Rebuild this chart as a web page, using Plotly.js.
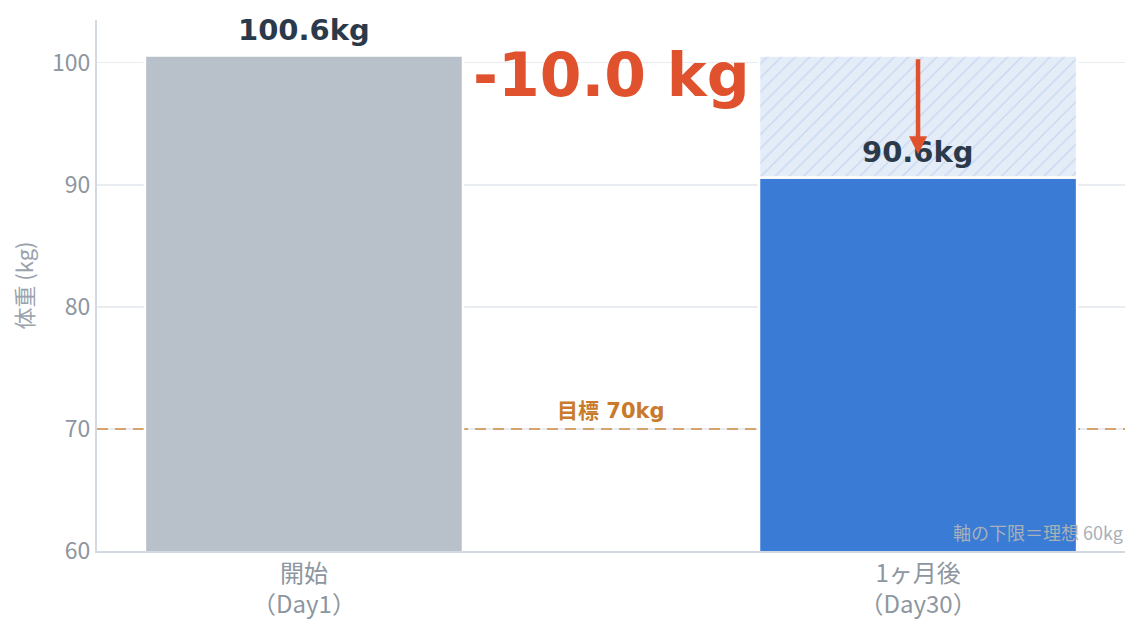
<!DOCTYPE html>
<html>
<head>
<meta charset="utf-8">
<script src="https://cdn.plot.ly/plotly-3.0.1.min.js"></script>
<style>
  body { margin: 0; background: #fff; }
  #chart { width: 1140px; height: 630px; }
</style>
</head>
<body>
<div id="chart"></div>
<script>
// data
const categories = ['開始<br>（Day1）', '1ヶ月後<br>（Day30）'];
const weights = [100.6, 90.6];
const barColors = ['#b8c1ca', '#3a7bd5'];
const goalWeight = 70;
const axisMin = 60;
const axisMax = 103.5;

const lost = weights[0] - weights[1];

const boldFont = 'DejaVu Sans, Noto Sans CJK JP, sans-serif';
const thinFont = 'Noto Sans CJK JP, DejaVu Sans, sans-serif';

// goal line on a hidden 0..1 axis so it sits under the bars
const traceGoal = {
  x: [0, 1],
  y: [goalWeight, goalWeight],
  xaxis: 'x',
  type: 'scatter',
  mode: 'lines',
  line: { color: '#d08a40', width: 1.6, dash: '11px,7px' },
  hoverinfo: 'skip'
};

// main bars
const traceWeights = {
  x: categories,
  y: weights,
  xaxis: 'x2',
  type: 'bar',
  width: 0.518,
  marker: { color: barColors, line: { color: '#ffffff', width: 2.5 } },
  hoverinfo: 'skip'
};

// lost weight, hatched block on top of the second bar
const traceLost = {
  x: [categories[1]],
  y: [lost],
  base: [weights[1]],
  xaxis: 'x2',
  type: 'bar',
  width: 0.518,
  marker: {
    color: '#e4ecf8',
    line: { color: '#ffffff', width: 2.5 },
    pattern: { shape: '/', fgcolor: '#c6d6f0', bgcolor: '#e4ecf8', size: 10, solidity: 0.12 }
  },
  hoverinfo: 'skip'
};

const layout = {
  width: 1140,
  height: 630,
  margin: { l: 97, r: 15, t: 20, b: 79 },
  paper_bgcolor: '#ffffff',
  plot_bgcolor: '#ffffff',
  showlegend: false,
  barmode: 'overlay',
  font: { family: thinFont, color: '#8d96a0' },
  xaxis: {
    range: [0, 1],
    visible: false,
    fixedrange: true
  },
  xaxis2: {
    type: 'category',
    overlaying: 'x',
    side: 'bottom',
    anchor: 'y',
    range: [-0.337, 1.337],
    showgrid: false,
    showline: true,
    linecolor: '#d3d9e0',
    linewidth: 2,
    ticks: '',
    tickfont: { family: thinFont, size: 24, color: '#8d96a0' },
    fixedrange: true
  },
  yaxis: {
    range: [axisMin, axisMax],
    tickvals: [60, 70, 80, 90, 100],
    showgrid: true,
    gridcolor: '#e9edf1',
    gridwidth: 1.5,
    zeroline: false,
    showline: true,
    linecolor: '#d3d9e0',
    linewidth: 2,
    ticks: '',
    ticklen: 0,
    tickfont: { family: thinFont, size: 23, color: '#8d96a0' },
    title: { text: '体重 (kg)', font: { family: thinFont, size: 22, color: '#9aa3ad' }, standoff: 12 },
    fixedrange: true
  },
  annotations: [
    {
      xref: 'x2', x: categories[0], y: weights[0], yanchor: 'bottom', yshift: 6,
      text: '<b>' + weights[0].toFixed(1) + 'kg</b>', showarrow: false,
      font: { family: boldFont, size: 29, color: '#2b3a4a' }
    },
    {
      xref: 'x2', x: categories[1], y: weights[1], yanchor: 'bottom', yshift: 6,
      text: '<b>' + weights[1].toFixed(1) + 'kg</b>', showarrow: false,
      font: { family: boldFont, size: 29, color: '#2b3a4a' }
    },
    {
      xref: 'x2', x: categories[1], y: weights[1] + 1.9,
      ax: categories[1], ay: weights[0] - 0.2,
      axref: 'x2', ayref: 'y',
      text: '', showarrow: true,
      arrowhead: 2, arrowsize: 0.8, arrowwidth: 4.5, arrowcolor: '#e0522e'
    },
    {
      x: 0.5, xref: 'x2', y: 99, yref: 'y',
      text: '<b>-' + lost.toFixed(1) + ' kg</b>', showarrow: false,
      font: { family: boldFont, size: 60, color: '#e0522e' }
    },
    {
      x: 0.5, xref: 'x2', y: goalWeight, yref: 'y', yanchor: 'bottom', yshift: 4,
      text: '<b>目標 ' + goalWeight + 'kg</b>', showarrow: false,
      font: { family: boldFont, size: 21, color: '#c97a2a' }
    },
    {
      x: 1, xref: 'paper', xanchor: 'right', y: axisMin, yref: 'y', yanchor: 'bottom', yshift: 4,
      text: '軸の下限＝理想 ' + axisMin + 'kg', showarrow: false,
      font: { family: thinFont, size: 18, color: '#a8b0b8' }
    }
  ]
};

Plotly.newPlot('chart', [traceGoal, traceWeights, traceLost], layout, { displayModeBar: false, staticPlot: true });
</script>
</body>
</html>
